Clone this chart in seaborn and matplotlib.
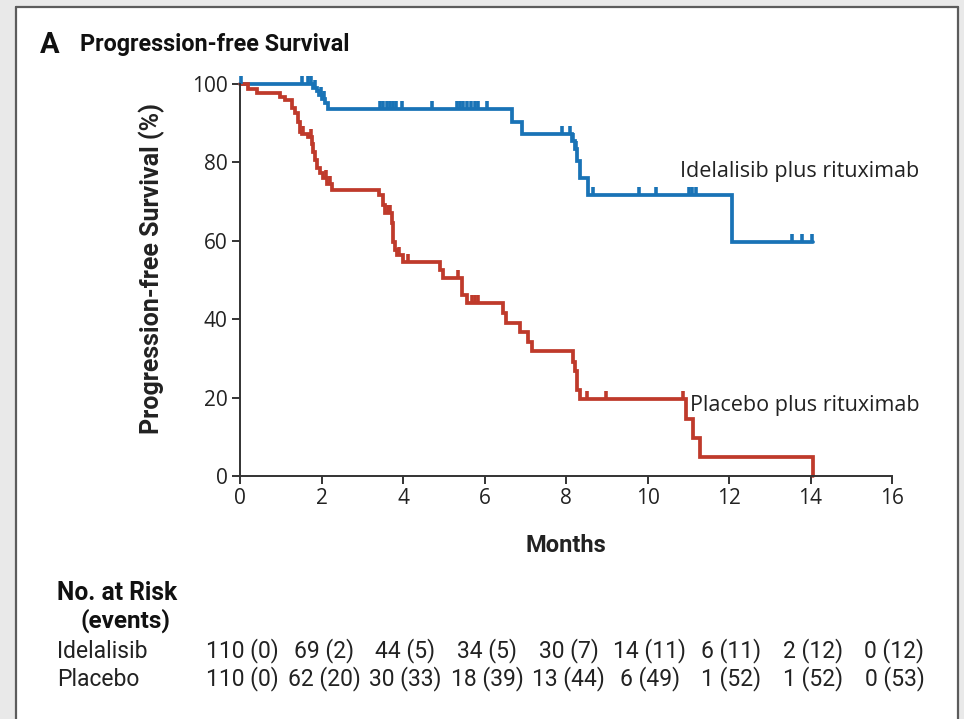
import numpy as np
import pandas as pd
import seaborn as sns
import matplotlib.pyplot as plt
from matplotlib.path import Path
from matplotlib.patches import Rectangle
from matplotlib.lines import Line2D
from matplotlib.transforms import blended_transform_factory

# ---------------- data ----------------
ide_time = [0, 1.80, 1.88, 1.95, 2.02, 2.08, 2.15, 6.68, 6.91, 8.15, 8.22, 8.28, 8.34, 8.55, 12.08, 14.05]
ide_surv = [100, 99.1, 98.2, 97.2, 96.2, 95.2, 93.6, 90.2, 87.3, 85.5, 83.5, 80.3, 75.9, 71.6, 59.7, 59.7]
ide_censor = [0.02, 1.51, 1.68, 1.74, 1.85, 1.98, 2.05, 3.44, 3.52, 3.60, 3.68, 3.76, 3.84, 3.97,
              4.71, 5.32, 5.40, 5.48, 5.56, 5.66, 5.76, 5.85, 6.06, 7.90, 8.10, 8.18, 8.24,
              8.67, 9.80, 10.21, 11.02, 11.10, 11.18, 13.54, 13.78, 14.03]

pla_time = [0, 0.20, 0.41, 0.98, 1.10, 1.27, 1.35, 1.43, 1.47, 1.53, 1.68, 1.76, 1.80, 1.84, 1.90,
            1.96, 2.04, 2.13, 2.25, 3.40, 3.50, 3.56, 3.72, 3.76, 3.80, 3.85, 4.01, 4.91, 4.99,
            5.44, 5.56, 6.46, 6.52, 6.86, 7.07, 7.16, 8.16, 8.22, 8.28, 8.34, 10.94, 11.12, 11.30, 14.05]
pla_surv = [100, 98.6, 97.6, 96.8, 95.8, 93.8, 92.5, 90.4, 87.8, 87.2, 86.5, 84.8, 82.7, 80.6, 78.5,
            77.2, 75.9, 74.6, 73.0, 71.7, 69.1, 67.0, 64.5, 59.8, 57.7, 56.4, 54.6, 52.6, 50.6,
            46.2, 44.2, 41.5, 39.1, 36.8, 34.3, 31.9, 29.2, 26.9, 21.9, 19.6, 14.5, 9.6, 4.8, 0]
pla_censor = [1.55, 1.74, 2.10, 2.20, 3.62, 3.68, 3.90, 4.13, 5.36, 5.70, 5.77, 5.84, 8.51, 8.98, 10.88]

arm_names = ["Idelalisib plus rituximab", "Placebo plus rituximab"]
row_names = ["Idelalisib", "Placebo"]
risk_months = [0, 2, 4, 6, 8, 10, 12, 14, 16]
ide_risk = ["110 (0)", "69 (2)", "44 (5)", "34 (5)", "30 (7)", "14 (11)", "6 (11)", "2 (12)", "0 (12)"]
pla_risk = ["110 (0)", "62 (20)", "30 (33)", "18 (39)", "13 (44)", "6 (49)", "1 (52)", "1 (52)", "0 (53)"]
x_ticks = [0, 2, 4, 6, 8, 10, 12, 14, 16]
y_ticks = [0, 20, 40, 60, 80, 100]

BLUE = "#1973b6"
RED = "#bf3a2b"

# ---------------- style ----------------
sns.set_theme(style="ticks")
plt.rcParams["font.family"] = ["Open Sans", "DejaVu Sans"]
COND = ["Liberation Sans Narrow", "Roboto", "DejaVu Sans"]

W, H = 964, 719
fig = plt.figure(figsize=(W / 100, H / 100), dpi=100)
fig.patch.set_facecolor("#e9e9e9")

# frame
fig.add_artist(Rectangle((16 / W, 0), (958 - 16) / W, 1 - 7 / H, transform=fig.transFigure,
                         facecolor="white", edgecolor="none", zorder=-5))
for xs, ys in [([16 / W, 16 / W], [0, 1 - 7 / H]),
               ([16 / W, 958 / W], [1 - 7 / H, 1 - 7 / H]),
               ([958 / W, 958 / W], [0, 1 - 7 / H])]:
    fig.add_artist(Line2D(xs, ys, transform=fig.transFigure, color="#5c5c5c", lw=1.6))

ax = fig.add_axes([240 / W, 1 - 476 / H, (892 - 240) / W, (476 - 84) / H])
ax.set_facecolor("none")

df = pd.concat([
    pd.DataFrame({"month": ide_time, "surv": ide_surv, "arm": arm_names[0]}),
    pd.DataFrame({"month": pla_time, "surv": pla_surv, "arm": arm_names[1]}),
])
sns.lineplot(data=df, x="month", y="surv", hue="arm", palette=[BLUE, RED],
             estimator=None, sort=False, drawstyle="steps-post", lw=2.7,
             legend=False, ax=ax)
for ln in ax.lines:
    ln.set_clip_on(False)
    ln.set_solid_joinstyle("miter")

tick_marker = Path([(0, 0), (0, 1)])


def step_value(times, survs, t):
    i = np.searchsorted(np.asarray(times), t, side="right") - 1
    return np.asarray(survs)[i]


for times, survs, cens, col in [(ide_time, ide_surv, ide_censor, BLUE),
                                 (pla_time, pla_surv, pla_censor, RED)]:
    cy = step_value(times, survs, np.asarray(cens))
    ax.plot(cens, cy, linestyle="none", marker=tick_marker, markersize=12,
            mew=2.6, color=col, clip_on=False)

ax.set_xlim(0, 16)
ax.set_ylim(0, 100)
ax.set_xticks(x_ticks)
ax.set_yticks(y_ticks)
ax.tick_params(axis="both", direction="out", length=6, width=1.4, color="#333333",
               labelsize=15, labelcolor="#222222", pad=3)
for s in ["left", "bottom"]:
    ax.spines[s].set_linewidth(1.4)
    ax.spines[s].set_color("#333333")
sns.despine(ax=ax)
ax.set_xlabel("")
ax.set_ylabel("")

ax.text(10.8, 77.8, arm_names[0], fontsize=15.5, color="#222222", va="center", ha="left")
ax.text(11.05, 18.0, arm_names[1], fontsize=15.5, color="#222222", va="center", ha="left")

# axis titles
fig.text(152 / W, 1 - 268 / H, "Progression-free Survival (%)", rotation=90, ha="center",
         va="center", fontsize=18, fontweight="bold", family=COND, color="#222222")
fig.text(566 / W, 1 - 545 / H, "Months", ha="center", va="center", fontsize=17,
         fontweight="bold", family=COND, color="#222222")

# panel title
fig.text(40 / W, 1 - 45 / H, "A", ha="left", va="center", fontsize=21, fontweight="bold",
         family=COND, color="#111111")
fig.text(80 / W, 1 - 45 / H, "Progression-free Survival", ha="left", va="center",
         fontsize=16.8, fontweight="bold", family=COND, color="#111111")

# at-risk table
fig.text(57 / W, 1 - 593 / H, "No. at Risk", ha="left", va="center", fontsize=17.7,
         fontweight="bold", family=COND, color="#111111")
fig.text(80 / W, 1 - 621 / H, "(events)", ha="left", va="center", fontsize=17.5,
         fontweight="bold", family=COND, color="#111111")
trans = blended_transform_factory(ax.transData, fig.transFigure)
for name, vals, ypx in [(row_names[0], ide_risk, 651), (row_names[1], pla_risk, 679)]:
    fig.text(57 / W, 1 - ypx / H, name, ha="left", va="center", fontsize=16.5,
             family=COND, color="#222222")
    for m, v in zip(risk_months, vals):
        ax.text(m + 0.06, 1 - ypx / H, v, transform=trans, ha="center", va="center",
                fontsize=16.5, family=COND, color="#222222")

fig.savefig("out.png", dpi=100, facecolor=fig.get_facecolor())
